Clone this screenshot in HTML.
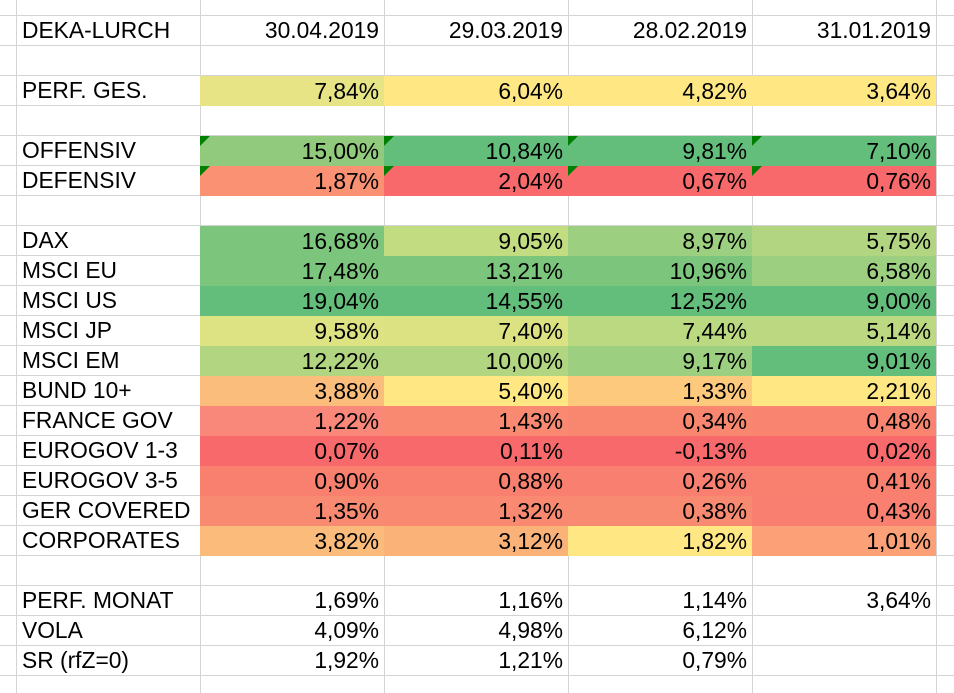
<!DOCTYPE html>
<html><head><meta charset="utf-8"><style>
html,body{margin:0;padding:0;background:#fff;width:954px;height:693px;overflow:hidden}
#sheet{position:relative;width:954px;height:693px;font-family:"Liberation Sans",sans-serif;font-size:22.8px;color:#000}
.vl{position:absolute;top:0;width:1px;height:693px;background:#d4d4d4}
.hl{position:absolute;left:0;width:954px;height:1px;background:#d4d4d4}
.c{position:absolute;height:30px;line-height:31px;box-sizing:border-box;white-space:nowrap}
.r{text-align:right;padding-right:5px}
.l{padding-left:6px}
.tri{position:absolute;left:0;top:0;width:0;height:0;border-top:10px solid #008000;border-right:10px solid transparent}
</style></head><body>
<div id="sheet"></div>
<script>
const labels=["DEKA-LURCH","","PERF. GES.","","OFFENSIV","DEFENSIV","","DAX","MSCI EU","MSCI US","MSCI JP","MSCI EM","BUND 10+","FRANCE GOV","EUROGOV 1-3","EUROGOV 3-5","GER COVERED","CORPORATES","","PERF. MONAT","VOLA","SR (rfZ=0)"];
const col1=["30.04.2019","","7,84%","","15,00%","1,87%","","16,68%","17,48%","19,04%","9,58%","12,22%","3,88%","1,22%","0,07%","0,90%","1,35%","3,82%","","1,69%","4,09%","1,92%"];
const col2=["29.03.2019","","6,04%","","10,84%","2,04%","","9,05%","13,21%","14,55%","7,40%","10,00%","5,40%","1,43%","0,11%","0,88%","1,32%","3,12%","","1,16%","4,98%","1,21%"];
const col3=["28.02.2019","","4,82%","","9,81%","0,67%","","8,97%","10,96%","12,52%","7,44%","9,17%","1,33%","0,34%","-0,13%","0,26%","0,38%","1,82%","","1,14%","6,12%","0,79%"];
const col4=["31.01.2019","","3,64%","","7,10%","0,76%","","5,75%","6,58%","9,00%","5,14%","9,01%","2,21%","0,48%","0,02%","0,41%","0,43%","1,01%","","3,64%","",""];
const fill1=["","","#e6e484","","#92ca7d","#fa9173","","#7cc57c","#7cc57c","#63be7b","#dde282","#b1d580","#fbbd7b","#f9877a","#f8696b","#f97f6f","#f98a72","#fbbc7b","","","",""];
const fill2=["","","#ffe884","","#63be7b","#f8696b","","#c2dc82","#7cc57c","#63be7b","#dce182","#b1d580","#ffe884","#f98971","#f8696b","#f97f6f","#f98971","#fab279","","","",""];
const fill3=["","","#ffe884","","#63be7b","#f8696b","","#9ccf7f","#7cc57c","#63be7b","#bad980","#9ccf7f","#fdc97d","#f98770","#f8696b","#f98070","#f98a72","#ffe884","","","",""];
const fill4=["","","#ffe884","","#63be7b","#f8696b","","#b1d580","#9ccf7f","#63be7b","#bcd981","#63be7b","#ffe884","#f98470","#f8696b","#f97f6f","#f98070","#fba077","","","",""];
const tris=[[4,1],[4,2],[4,3],[4,4],[5,1],[5,2],[5,3],[5,4]];
const colX=[16,200,384,568,752,936];
const top0=15,rowH=30;
const sheet=document.getElementById('sheet');
for(const x of colX){const d=document.createElement('div');d.className='vl';d.style.left=x+'px';


sheet.appendChild(d);}
for(let y=top0;y<693;y+=rowH){const d=document.createElement('div');d.className='hl';d.style.top=y+'px';


sheet.appendChild(d);}
const cols=[col1,col2,col3,col4],fills=[fill1,fill2,fill3,fill4];
labels.forEach((t,i)=>{
 const y=top0+i*rowH;
 const d=document.createElement('div');d.className='c l';d.style.left=colX[0]+'px';d.style.top=y+'px';d.style.width='184px';d.textContent=t;
 
 
 sheet.appendChild(d);
 cols.forEach((c,j)=>{
  const e=document.createElement('div');e.className='c r';
  e.style.left=colX[j+1]+'px';e.style.top=y+'px';e.style.width='184px';
  const f=fills[j][i];
  if(f){e.style.background=f;e.style.top=(y+1)+'px';e.style.height='30px';e.style.lineHeight='30px';}
  e.textContent=c[i];
  
  
  sheet.appendChild(e);
 });
});
tris.forEach(([r,c])=>{
 const t=document.createElement('div');t.className='tri';
 t.style.left=colX[c]+'px';t.style.top=(top0+r*rowH+1)+'px';
 
 
 sheet.appendChild(t);
});
</script>
</body></html>
